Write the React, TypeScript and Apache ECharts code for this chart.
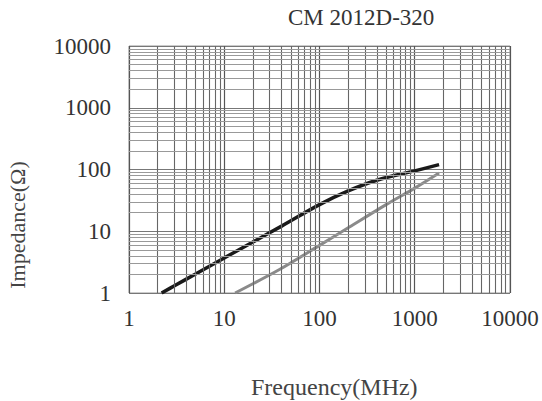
import React, { useEffect, useRef } from "react";
import * as echarts from "echarts";

const titleText = "CM 2012D-320";
const xName = "Frequency(MHz)";
const yName = "Impedance(Ω)";
const xTicks = [1, 10, 100, 1000, 10000];
const yTicks = [1, 10, 100, 1000, 10000];

// Common-mode impedance (black)
const blackFreq = [2.2, 3, 5, 10, 20, 40, 100, 200, 400, 1000, 1800];
const blackZ = [1, 1.31, 2.03, 3.7, 6.7, 12.1, 27, 45, 67, 95, 120];
// Differential impedance (gray)
const grayFreq = [13, 38, 100, 206, 500, 1000, 1800];
const grayZ = [1, 2.4, 5.9, 11.7, 27, 50, 88];

const minorMultipliers = [2, 3, 4, 5, 6, 7, 8, 9];

export default function App() {
  const ref = useRef<HTMLDivElement>(null);
  useEffect(() => {
    document.body.style.margin = "0";
    if (!ref.current) return;
    const chart = echarts.init(ref.current, undefined, { renderer: "svg" });
    const minorX: any[] = [];
    const minorY: any[] = [];
    for (let i = 0; i < xTicks.length - 1; i++) {
      for (const m of minorMultipliers) minorX.push({ xAxis: xTicks[i] * m });
    }
    for (let i = 0; i < yTicks.length - 1; i++) {
      for (const m of minorMultipliers) minorY.push({ yAxis: yTicks[i] * m });
    }
    const font = "'Liberation Serif', 'DejaVu Serif', serif";
    chart.setOption({
      animation: false,
      backgroundColor: "#fff",
      title: {
        text: titleText,
        left: 283,
        top: 1,
        textStyle: { fontFamily: font, fontSize: 23, fontWeight: "normal", color: "#333" },
      },
      grid: {
        left: 129,
        right: 32,
        top: 46,
        bottom: 108,
        show: true,
        borderColor: "#999",
        borderWidth: 1,
      },
      xAxis: {
        type: "log",
        logBase: 10,
        min: 1,
        max: 10000,
        axisLine: { show: false },
        axisTick: { show: false },
        axisLabel: {
          fontFamily: font,
          fontSize: 23,
          color: "#333",
          margin: 14,
          formatter: (v: number) => String(Math.round(v)),
        },
        splitLine: { show: true, lineStyle: { color: "#555", width: 1.2 } },
        minorTick: { show: false },
      },
      yAxis: {
        type: "log",
        logBase: 10,
        min: 1,
        max: 10000,
        axisLine: { show: false },
        axisTick: { show: false },
        axisLabel: {
          fontFamily: font,
          fontSize: 23,
          color: "#333",
          margin: 18,
          formatter: (v: number) => String(Math.round(v)),
        },
        splitLine: { show: true, lineStyle: { color: "#777", width: 1.2 } },
      },
      graphic: [
        {
          type: "text",
          left: 251,
          top: 375,
          style: { text: xName, fontFamily: font, fontSize: 24, fill: "#444" },
        },
        {
          type: "text",
          x: 17,
          y: 225,
          rotation: Math.PI / 2,
          style: {
            text: yName,
            fontFamily: font,
            fontSize: 22,
            fill: "#444",
            align: "center",
            verticalAlign: "middle",
          },
        },
      ],
      series: [
        {
          type: "line",
          data: [],
          silent: true,
          markLine: {
            silent: true,
            symbol: "none",
            label: { show: false },
            lineStyle: { type: "solid", color: "#666", width: 1.1 },
            data: minorX,
          },
        },
        {
          type: "line",
          data: [],
          silent: true,
          markLine: {
            silent: true,
            symbol: "none",
            label: { show: false },
            lineStyle: { type: "solid", color: "#999", width: 1 },
            data: minorY,
          },
        },
        {
          type: "line",
          data: grayFreq.map((f, i) => [f, grayZ[i]]),
          smooth: 0.3,
          showSymbol: false,
          lineStyle: { color: "#8a8a8a", width: 3 },
        },
        {
          type: "line",
          data: blackFreq.map((f, i) => [f, blackZ[i]]),
          smooth: 0.4,
          showSymbol: false,
          lineStyle: { color: "#1a1a1a", width: 3.5 },
        },
      ],
    });
    return () => chart.dispose();
  }, []);
  return <div ref={ref} style={{ width: 542, height: 401 }} />;
}
